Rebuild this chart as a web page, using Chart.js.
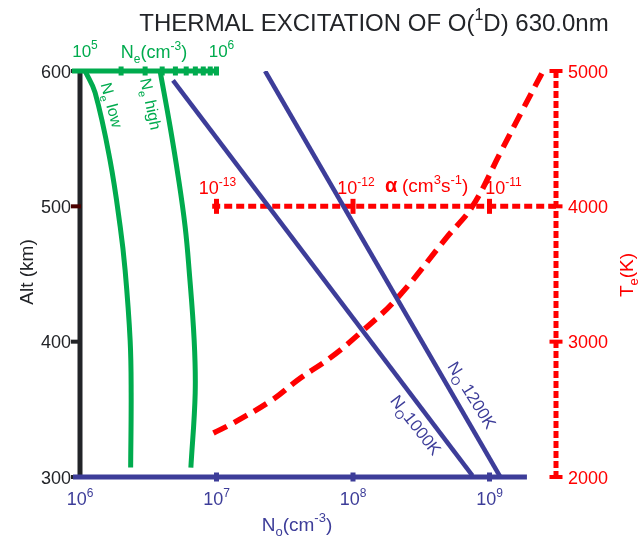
<!DOCTYPE html>
<html>
<head>
<meta charset="utf-8">
<script src="https://cdn.jsdelivr.net/npm/chart.js@4.4.1/dist/chart.umd.min.js"></script>
<style>
  html, body { margin: 0; padding: 0; background: #fff; }
  #wrap { width: 641px; height: 539px; position: relative; }
</style>
</head>
<body>
<div id="wrap"><canvas id="chart"></canvas></div>
<script>
// Electron density profiles (top axis, cm^-3) against altitude (km)
const neLowAlt  = [600, 584, 534, 485, 453, 401, 362, 307];
const neLow     = [1.09e5, 1.29e5, 1.66e5, 1.97e5, 2.14e5, 2.33e5, 2.37e5, 2.35e5];
const neHighAlt = [600, 559, 522, 485, 453, 401, 362, 307];
const neHigh    = [3.86e5, 4.57e5, 5.24e5, 5.89e5, 6.3e5, 6.86e5, 6.98e5, 6.49e5];

// Atomic oxygen density (bottom axis, cm^-3)
const no1000Alt = [593, 301];
const no1000    = [4.8e6, 7.5e8];
const no1200Alt = [600, 300];
const no1200    = [2.27e7, 1.2e9];

// Rate coefficient alpha (cm^3 s^-1) against electron temperature (K)
const alphaVals = [9.5e-14, 1.33e-13, 2.56e-13, 4.1e-13, 6.8e-13, 1.13e-12, 2.1e-12, 4.9e-12, 7.5e-12, 1.2e-11, 1.7e-11, 2.5e-11];
const teVals    = [2325, 2400, 2570, 2730, 2880, 3065, 3320, 3775, 4000, 4395, 4690, 5010];

// Axis ticks
const altTicks   = [300, 400, 500, 600];
const noTicks    = [1e6, 1e7, 1e8, 1e9];
const neTicks    = [1e5, 2e5, 3e5, 4e5, 5e5, 6e5, 7e5, 8e5, 9e5, 1e6];
const neLabelled = [1e5, 1e6];
const alphaTicks = [1e-13, 1e-12, 1e-11];
const teTicks    = [2000, 3000, 4000, 5000];

const GREEN = '#00ab4e';
const BLUE  = '#3d3d99';
const RED   = '#ff0000';
const BLACK = '#222428';
const FONT  = '"Liberation Sans", Arial, sans-serif';

function pts(xs, ys) {
  return xs.map((v, i) => ({ x: v, y: ys[i] }));
}

function pow10(v) {
  return '10^{' + Math.round(Math.log10(v)) + '}';
}

// draw text with ^{sup} and _{sub} parts
function rich(ctx, str, x, y, size, color, align, bold) {
  const parts = [];
  const re = /\^\{([^}]*)\}|_\{([^}]*)\}|([^^_]+)/g;
  let m;
  while ((m = re.exec(str))) {
    if (m[1] !== undefined) parts.push({ t: m[1], k: 'sup' });
    else if (m[2] !== undefined) parts.push({ t: m[2], k: 'sub' });
    else parts.push({ t: m[3], k: 'n' });
  }
  const small = Math.round(size * 0.68);
  let w = 0;
  parts.forEach(p => {
    p.size = p.k === 'n' ? size : small;
    ctx.font = (bold ? 'bold ' : '') + p.size + 'px ' + FONT;
    p.w = ctx.measureText(p.t).width;
    w += p.w;
  });
  let cx = align === 'center' ? x - w / 2 : align === 'right' ? x - w : x;
  ctx.fillStyle = color;
  ctx.textAlign = 'left';
  ctx.textBaseline = 'alphabetic';
  parts.forEach(p => {
    ctx.font = (bold ? 'bold ' : '') + p.size + 'px ' + FONT;
    const dy = p.k === 'sup' ? -size * 0.45 : p.k === 'sub' ? size * 0.28 : 0;
    ctx.fillText(p.t, cx, y + dy);
    cx += p.w;
  });
  return w;
}

function richRot(ctx, str, x, y, angle, size, color) {
  ctx.save();
  ctx.translate(x, y);
  ctx.rotate(angle * Math.PI / 180);
  rich(ctx, str, 0, size * 0.35, size, color, 'center');
  ctx.restore();
}

function line(ctx, x1, y1, x2, y2, color, width, dash) {
  ctx.save();
  ctx.strokeStyle = color;
  ctx.lineWidth = width;
  ctx.setLineDash(dash || []);
  ctx.beginPath();
  ctx.moveTo(x1, y1);
  ctx.lineTo(x2, y2);
  ctx.stroke();
  ctx.restore();
}

function rect(ctx, cx, cy, w, h, color) {
  ctx.fillStyle = color;
  ctx.fillRect(cx - w / 2, cy - h / 2, w, h);
}

// All four axes are drawn by hand from the hidden scales
const axesPlugin = {
  id: 'axes',
  beforeDatasetsDraw(chart) {
    const ctx = chart.ctx;
    const s = chart.scales;
    const area = chart.chartArea;
    const xL = area.left, xR = area.right;
    const yTop = s.y.getPixelForValue(600), yBot = s.y.getPixelForValue(300);

    // Alt (left)
    line(ctx, xL, yTop, xL, yBot, BLACK, 5);
    altTicks.forEach(t => {
      rect(ctx, xL - 4, s.y.getPixelForValue(t), 10, 4, t === 500 ? '#4a0000' : BLACK);
    });

    // Te (right, dashed)
    line(ctx, xR, s.yTe.getPixelForValue(5000), xR, s.yTe.getPixelForValue(2000), RED, 5, [7, 3]);
    teTicks.forEach(t => rect(ctx, xR, s.yTe.getPixelForValue(t), 13, 4, RED));

    // alpha axis at 500 km
    const yA = s.y.getPixelForValue(500);
    line(ctx, s.xA.getPixelForValue(9.3e-14), yA, xR, yA, RED, 5, [8, 4]);
    alphaTicks.forEach(t => rect(ctx, s.xA.getPixelForValue(t), yA, 5, 15, RED));

    // No (bottom)
    line(ctx, xL - 7, yBot, s.x.getPixelForValue(1.88e9), yBot, BLUE, 5);
    noTicks.slice(1).forEach(t => rect(ctx, s.x.getPixelForValue(t), yBot, 5, 9, BLUE));

    // Ne (top)
    line(ctx, xL - 8, yTop, s.xNe.getPixelForValue(1e6), yTop, GREEN, 5);
    neTicks.slice(1).forEach(t => rect(ctx, s.xNe.getPixelForValue(t), yTop, 5, 9, GREEN));
  },
  afterDraw(chart) {
    const ctx = chart.ctx;
    const s = chart.scales;
    const area = chart.chartArea;
    const xL = area.left, xR = area.right;
    const yTop = s.y.getPixelForValue(600), yBot = s.y.getPixelForValue(300);
    const yA = s.y.getPixelForValue(500);

    rich(ctx, 'THERMAL EXCITATION OF O(^{1}D) 630.0nm', 374, 31, 24, BLACK, 'center');

    altTicks.forEach(t => rich(ctx, String(t), xL - 9, s.y.getPixelForValue(t) + 6.5, 18, BLACK, 'right'));
    richRot(ctx, 'Alt (km)', 26, 272, -90, 19, BLACK);

    teTicks.forEach(t => rich(ctx, String(t), xR + 12, s.yTe.getPixelForValue(t) + 6.5, 18, RED, 'left'));
    richRot(ctx, 'T_{e}(K)', 626, 275, -90, 19, RED);

    noTicks.forEach(t => rich(ctx, pow10(t), s.x.getPixelForValue(t), yBot + 28, 18, BLUE, 'center'));
    rich(ctx, 'N_{o}(cm^{-3})', 297, yBot + 54, 19, BLUE, 'center');

    neLabelled.forEach(t => rich(ctx, pow10(t), s.xNe.getPixelForValue(t) + 5, yTop - 14, 17, GREEN, 'center'));
    rich(ctx, 'N_{e}(cm^{-3})', 154, yTop - 13, 18, GREEN, 'center');

    const aOff = [1, 3, 14];
    alphaTicks.forEach((t, i) => rich(ctx, pow10(t), s.xA.getPixelForValue(t) + aOff[i], yA - 12, 18, RED, 'center'));
    rich(ctx, 'α', 385, yA - 14, 20, RED, 'left', true);
    rich(ctx, '(cm^{3}s^{-1})', 402, yA - 14, 19, RED, 'left');

    richRot(ctx, 'N_{e} low', 112, 105, 75, 16, GREEN);
    richRot(ctx, 'N_{e} high', 151, 104, 78, 16, GREEN);
    richRot(ctx, 'N_{O} 1200K', 472, 395, 58, 17, BLUE);
    richRot(ctx, 'N_{O}1000K', 416, 425, 52, 17, BLUE);
  }
};

const curve = { showLine: true, pointRadius: 0, fill: false, tension: 0.4 };

new Chart(document.getElementById('chart'), {
  type: 'scatter',
  data: {
    datasets: [
      { ...curve, label: 'Ne low', data: pts(neLow, neLowAlt), xAxisID: 'xNe', yAxisID: 'y', borderColor: GREEN, borderWidth: 5 },
      { ...curve, label: 'Ne high', data: pts(neHigh, neHighAlt), xAxisID: 'xNe', yAxisID: 'y', borderColor: GREEN, borderWidth: 5 },
      { ...curve, label: 'No 1000K', data: pts(no1000, no1000Alt), xAxisID: 'x', yAxisID: 'y', borderColor: BLUE, borderWidth: 4.5, tension: 0 },
      { ...curve, label: 'No 1200K', data: pts(no1200, no1200Alt), xAxisID: 'x', yAxisID: 'y', borderColor: BLUE, borderWidth: 4.5, tension: 0 },
      { ...curve, label: 'alpha(Te)', data: pts(alphaVals, teVals), xAxisID: 'xA', yAxisID: 'yTe', borderColor: RED, borderWidth: 5.5, borderDash: [15, 8], clip: false }
    ]
  },
  options: {
    responsive: true,
    maintainAspectRatio: false,
    animation: false,
    layout: { padding: { left: 80, right: 85, top: 71, bottom: 62 } },
    plugins: { legend: { display: false }, tooltip: { enabled: false } },
    scales: {
      x:   { type: 'logarithmic', min: 1e6, max: 3.07e9, display: false },
      xNe: { type: 'logarithmic', axis: 'x', min: 1e5, max: 3.07e8, display: false },
      xA:  { type: 'logarithmic', axis: 'x', min: 1e-14, max: 3.07e-11, display: false },
      y:   { type: 'linear', min: 300, max: 600, display: false },
      yTe: { type: 'linear', axis: 'y', min: 2000, max: 5000, display: false }
    }
  },
  plugins: [axesPlugin]
});
</script>
</body>
</html>
